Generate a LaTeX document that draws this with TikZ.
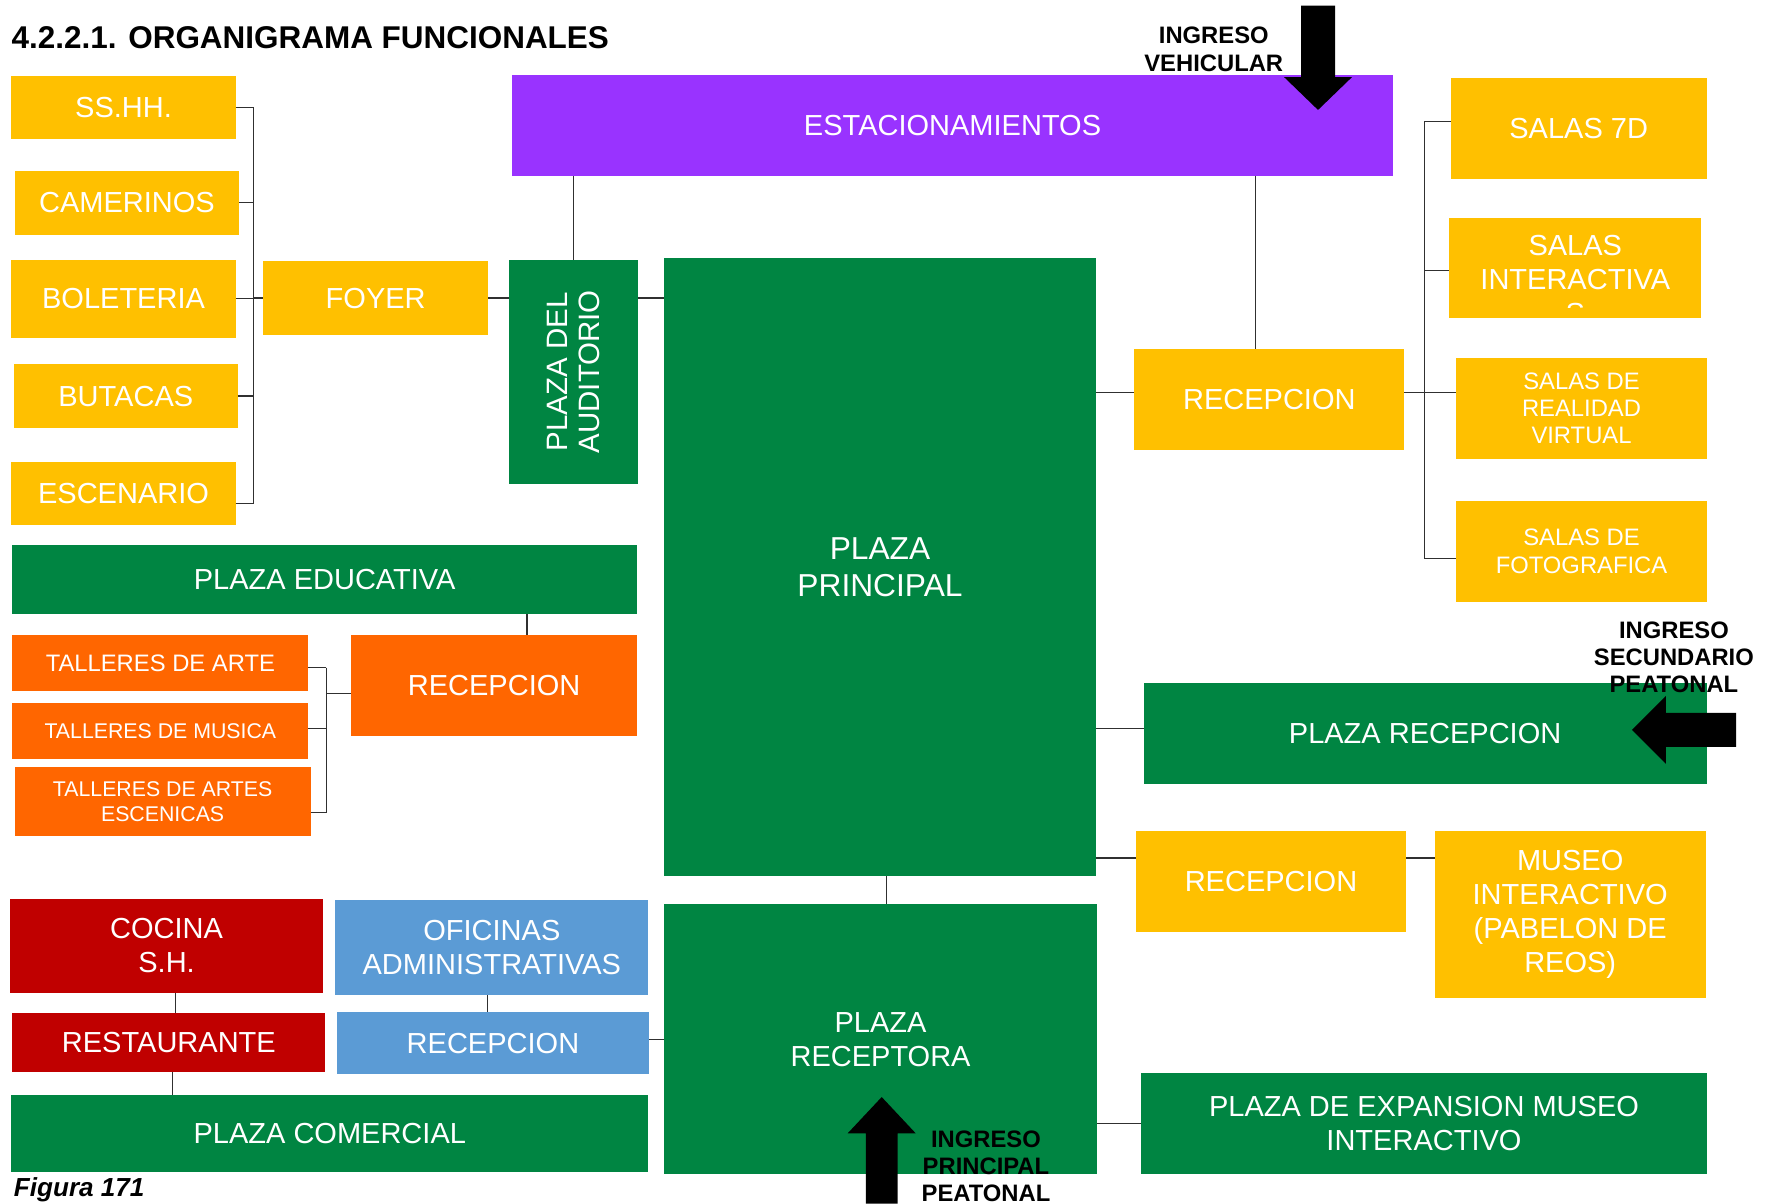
\documentclass[tikz,border=0pt]{standalone}
\usepackage{fontspec}
\setmainfont{Liberation Sans}
\usetikzlibrary{calc}
\definecolor{cYel}{HTML}{FFC000}
\definecolor{cPur}{HTML}{9933FF}
\definecolor{cGrn}{HTML}{008542}
\definecolor{cOra}{HTML}{FF6600}
\definecolor{cRed}{HTML}{C00000}
\definecolor{cBlu}{HTML}{5B9BD5}
\definecolor{cLine}{HTML}{303030}
\newcommand\fsz[2]{\fontsize{#1pt}{#2pt}\selectfont}
\newcommand\bx[7]{\node[box,#6,minimum width={(#4-#2)*0.02cm},minimum height={(#5-#3)*0.02cm}] (#1) at ({(#2+#4)/2},{(#3+#5)/2}) {#7};}
\begin{document}
\begin{tikzpicture}[x=0.02cm,y=-0.02cm,
  box/.style={rectangle,inner sep=0pt,outer sep=0pt,align=center,text=white,font=\fsz{14.57}{17.07}},
  midtxt/.style={font=\fsz{11.95}{13.66}},
  conn/.style={draw=cLine,line width=0.6pt},
  lbl/.style={align=center,font=\bfseries\fsz{11.95}{13.66},inner sep=0pt,text=black},
  arrowfill/.style={fill=black}]
\useasboundingbox (0,0) rectangle (1568,1062);

% ---- boxes ----
\bx{ss}{10}{67}{208}{123}{fill=cYel}{SS.HH.}
\bx{cam}{13}{151}{211}{207}{fill=cYel}{CAMERINOS}
\bx{bol}{10}{229}{208}{298}{fill=cYel}{BOLETERIA}
\bx{but}{12}{321}{210}{378}{fill=cYel}{BUTACAS}
\bx{esc}{10}{408}{208}{463}{fill=cYel}{ESCENARIO}
\bx{foy}{232}{230}{431}{296}{fill=cYel}{FOYER}
\bx{aud}{449}{229}{563}{427}{fill=cGrn}{}
\node[rotate=90,align=center,text=white,inner sep=0pt,font=\fsz{14.8}{16.5}] (audT) at (aud.center) {PLAZA DEL\\AUDITORIO};
\bx{est}{452}{66}{1229}{155}{fill=cPur}{ESTACIONAMIENTOS}
\bx{pp}{586}{228}{967}{773}{fill=cGrn,font=\fsz{15.93}{18.2}}{PLAZA\\PRINCIPAL}
\bx{recR}{1001}{308}{1239}{397}{fill=cYel}{RECEPCION}
\bx{s7}{1280}{69}{1506}{158}{fill=cYel}{SALAS 7D}
\bx{sint}{1279}{192}{1501}{281}{fill=cYel}{}
\begin{scope}
  \clip (sint.north west) rectangle ([yshift=0.2cm]sint.south east);
  \node[box] (sintT) at (1390,247) {SALAS\\INTERACTIVA\\S};
\end{scope}
\bx{srv}{1285}{316}{1506}{405}{fill=cYel,midtxt}{SALAS DE\\REALIDAD\\VIRTUAL}
\bx{sfo}{1285}{442}{1506}{531}{fill=cYel,midtxt}{SALAS DE\\FOTOGRAFICA}
\bx{pe}{11}{481}{562}{542}{fill=cGrn}{PLAZA EDUCATIVA}
\bx{recO}{310}{560}{562}{649}{fill=cOra}{RECEPCION}
\bx{tar}{11}{560}{272}{610}{fill=cOra,midtxt}{TALLERES DE ARTE}
\bx{tmu}{11}{620}{272}{670}{fill=cOra,font=\fsz{10.7}{12.5}}{TALLERES DE MUSICA}
\bx{tae}{13}{677}{274}{738}{fill=cOra,font=\fsz{10.7}{12.5}}{TALLERES DE ARTES\\ESCENICAS}
\bx{prc}{1009}{603}{1506}{692}{fill=cGrn}{PLAZA RECEPCION}
\bx{recY}{1002}{733}{1241}{822}{fill=cYel}{RECEPCION}
\bx{mus}{1266}{733}{1505}{881}{fill=cYel}{MUSEO\\INTERACTIVO\\(PABELON DE\\REOS)}
\bx{prt}{586}{798}{968}{1036}{fill=cGrn}{PLAZA\\RECEPTORA}
\bx{pex}{1007}{947}{1506}{1036}{fill=cGrn}{PLAZA DE EXPANSION MUSEO\\INTERACTIVO}
\bx{coc}{9}{793}{285}{876}{fill=cRed}{COCINA\\S.H.}
\bx{ofi}{296}{794}{572}{878}{fill=cBlu}{OFICINAS\\ADMINISTRATIVAS}
\bx{res}{11}{894}{287}{946}{fill=cRed}{RESTAURANTE}
\bx{recB}{297}{893}{573}{948}{fill=cBlu}{RECEPCION}
\bx{pco}{10}{966}{572}{1034}{fill=cGrn}{PLAZA COMERCIAL}

% ---- connectors ----
\coordinate (bL) at (224,0);
\coordinate (escL) at ([yshift=-0.18cm]esc.east);
\draw[conn] (ss.east -| bL) -- (escL -| bL);
\draw[conn] (ss.east) -- (ss.east -| bL);
\draw[conn] (cam.east) -- (cam.east -| bL);
\draw[conn] (bol.east) -- (bol.east -| bL);
\draw[conn] (but.east) -- (but.east -| bL);
\draw[conn] (escL) -- (escL -| bL);
\draw[conn] (foy.west) -- (foy.west -| bL);
\draw[conn] (foy.east) -- (foy.east -| aud.west);
\draw[conn] (foy.east -| aud.east) -- (foy.east -| pp.west);
\draw[conn] (aud.north) -- (aud.north |- est.south);

\coordinate (xR) at (1108,0);
\draw[conn] (xR |- est.south) -- (xR |- recR.north);
\coordinate (yR) at (0,346);
\draw[conn] (pp.east |- yR) -- (recR.west |- yR);
\coordinate (r1) at (1257,107);
\coordinate (r2) at (1257,239);
\coordinate (r3) at (1257,346);
\coordinate (r4) at (1257,493);
\draw[conn] (r1) -- (r4);
\draw[conn] (r1) -- (r1 -| s7.west);
\draw[conn] (r2) -- (r2 -| sint.west);
\draw[conn] (r3) -- (r3 -| srv.west);
\draw[conn] (r4) -- (r4 -| sfo.west);
\draw[conn] (recR.east |- r3) -- (r3);

\coordinate (xE) at (465,0);
\draw[conn] (xE |- pe.south) -- (xE |- recO.north);
\coordinate (t1) at (288,589);
\coordinate (t2) at (288,643);
\coordinate (t3) at (288,717);
\coordinate (t4) at (288,612);
\draw[conn] (t1) -- (t3);
\draw[conn] (t1) -- (t1 -| tar.east);
\draw[conn] (t2) -- (t2 -| tmu.east);
\draw[conn] (t3) -- (t3 -| tae.east);
\draw[conn] (t4) -- (t4 -| recO.west);

\coordinate (yP) at (0,643);
\draw[conn] (pp.east |- yP) -- (prc.west |- yP);
\coordinate (yM) at (0,757);
\draw[conn] (pp.east |- yM) -- (recY.west |- yM);
\draw[conn] (recY.east |- yM) -- (mus.west |- yM);
\coordinate (xP) at (782,0);
\draw[conn] (xP |- pp.south) -- (xP |- prt.north);
\draw[conn] (prt.east |- pex.west) -- (pex.west);
\coordinate (yB) at (0,917);
\draw[conn] (recB.east |- yB) -- (prt.west |- yB);
\coordinate (xC) at (155,0);
\draw[conn] (xC |- coc.south) -- (xC |- res.north);
\coordinate (xS) at (152,0);
\draw[conn] (xS |- res.south) -- (xS |- pco.north);
\coordinate (xO) at (430,0);
\draw[conn] (xO |- ofi.south) -- (xO |- recB.north);

% ---- entrance arrows ----
\fill[arrowfill] (1148,5) -- (1178,5) -- (1178,68) -- (1193,68) -- (1163,97) -- (1133,68) -- (1148,68) -- cycle;
\fill[arrowfill] (1532,629) -- (1532,659) -- (1470,659) -- (1470,674) -- (1440,644) -- (1470,614) -- (1470,629) -- cycle;
\fill[arrowfill] (764,1062) -- (792,1062) -- (792,1000) -- (808,1000) -- (778,968) -- (748,1000) -- (764,1000) -- cycle;

% ---- labels ----
\node[lbl] (ingV) at (1071,43.5) {INGRESO\\VEHICULAR};
\node[lbl] (ingS) at (1477,580) {INGRESO\\SECUNDARIO\\PEATONAL};
\node[lbl] (ingP) at (870,1029) {INGRESO\\PRINCIPAL\\PEATONAL};
\node[anchor=base west,inner sep=0pt,font=\bfseries\fsz{15.8}{18}] (title) at (10,43) {4.2.2.1. ORGANIGRAMA FUNCIONALES};
\node[anchor=base west,inner sep=0pt,font=\bfseries\itshape\fsz{13.1}{15}] (fig) at (12,1056) {Figura 171};
\end{tikzpicture}
\end{document}
